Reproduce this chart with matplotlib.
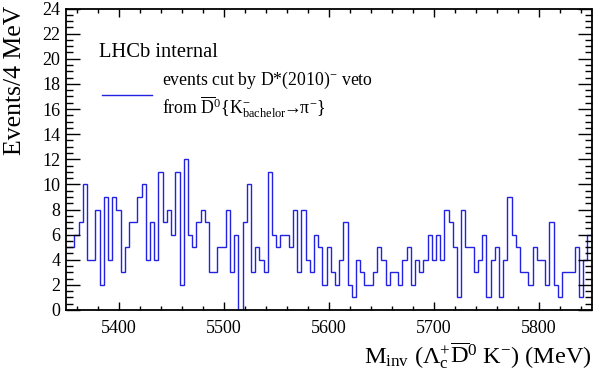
import numpy as np
import matplotlib
matplotlib.use("Agg")
import matplotlib.pyplot as plt
from matplotlib.ticker import MultipleLocator

plt.rcParams['font.family'] = ['Liberation Serif', 'DejaVu Serif']
plt.rcParams['mathtext.fontset'] = 'custom'
plt.rcParams['mathtext.rm'] = 'Liberation Serif'
plt.rcParams['mathtext.it'] = 'Liberation Serif'
plt.rcParams['mathtext.bf'] = 'Liberation Serif'

# histogram: 4 MeV bins from 5350 to 5850
bin_lo = 5350
bin_hi = 5850
bin_width = 4
counts = [5, 5, 6, 7, 10, 4, 4, 8, 2, 9, 4, 9, 8, 3, 5, 7, 7, 9, 10, 4,
          7, 4, 11, 7, 8, 6, 11, 2, 12, 6, 5, 7, 8, 7, 3, 3, 5, 5, 8, 3,
          6, 0, 7, 10, 3, 5, 4, 3, 11, 6, 5, 6, 6, 5, 8, 3, 8, 4, 3, 6,
          5, 2, 5, 3, 2, 4, 7, 2, 1, 4, 3, 2, 2, 3, 5, 4, 2, 3, 3, 2,
          4, 5, 2, 4, 3, 4, 6, 4, 6, 4, 8, 7, 5, 1, 8, 5, 5, 3, 4, 6,
          1, 4, 5, 1, 4, 9, 6, 5, 3, 3, 2, 5, 4, 4, 2, 7, 2, 1, 3, 3,
          3, 5, 1, 4, 6]

x_ticks = [5400, 5500, 5600, 5700, 5800]
y_ticks = list(range(0, 25, 2))

edges = np.arange(bin_lo, bin_hi + 1, bin_width)

fig = plt.figure(figsize=(5.95, 3.76), dpi=100)
ax = fig.add_axes([66 / 595, 1 - 310 / 376, 525.5 / 595, 301.5 / 376])

ax.stairs(counts, edges, baseline=None, color='#2222e0', lw=1.0)

ax.set_xlim(bin_lo, bin_hi)
ax.set_ylim(0, 24)
ax.set_xticks(x_ticks)
ax.set_yticks(y_ticks)
ax.xaxis.set_minor_locator(MultipleLocator(20))
ax.yaxis.set_minor_locator(MultipleLocator(0.5))
ax.tick_params(which='both', direction='in', top=True, right=True, width=1.0)
ax.tick_params(axis='y', which='major', length=10, labelsize=13, pad=4)
ax.tick_params(axis='y', which='minor', length=5)
ax.tick_params(axis='x', which='major', length=6, labelsize=13, pad=7)
ax.tick_params(axis='x', which='minor', length=3)
for s in ax.spines.values():
    s.set_linewidth(1.3)

ax.set_ylabel('Events/4 MeV', fontsize=18.5, loc='top')
ax.yaxis.set_label_coords(-0.077, 1.01)
ax.set_xlabel(r'M$_{\mathrm{inv}}$ ($\Lambda_{\mathrm{c}}^{+}\overline{\mathrm{D}}^{0}$ K$^{\mathrm{-}}$) (MeV)',
              fontsize=17.5, loc='right')
ax.xaxis.set_label_coords(1.0, -0.1)

# legend block
ax.text(0.062, 0.84, 'LHCb internal', transform=ax.transAxes, fontsize=14.8)
ax.plot([0.068, 0.163], [0.713, 0.713], transform=ax.transAxes, color='#2222e0', lw=1.0)
ax.text(0.182, 0.748, 'events cut by D*(2010)$^{\\mathrm{-}}$ veto', transform=ax.transAxes, fontsize=12.8)
ax.text(0.182, 0.652,
        r'from $\overline{\mathrm{D}}^{0}\{\mathrm{K}^{-}_{\mathrm{bachelor}}\!\!\rightarrow\!\!\pi^{-}\}$',
        transform=ax.transAxes, fontsize=12.8)

fig.savefig('out.png', dpi=100)
